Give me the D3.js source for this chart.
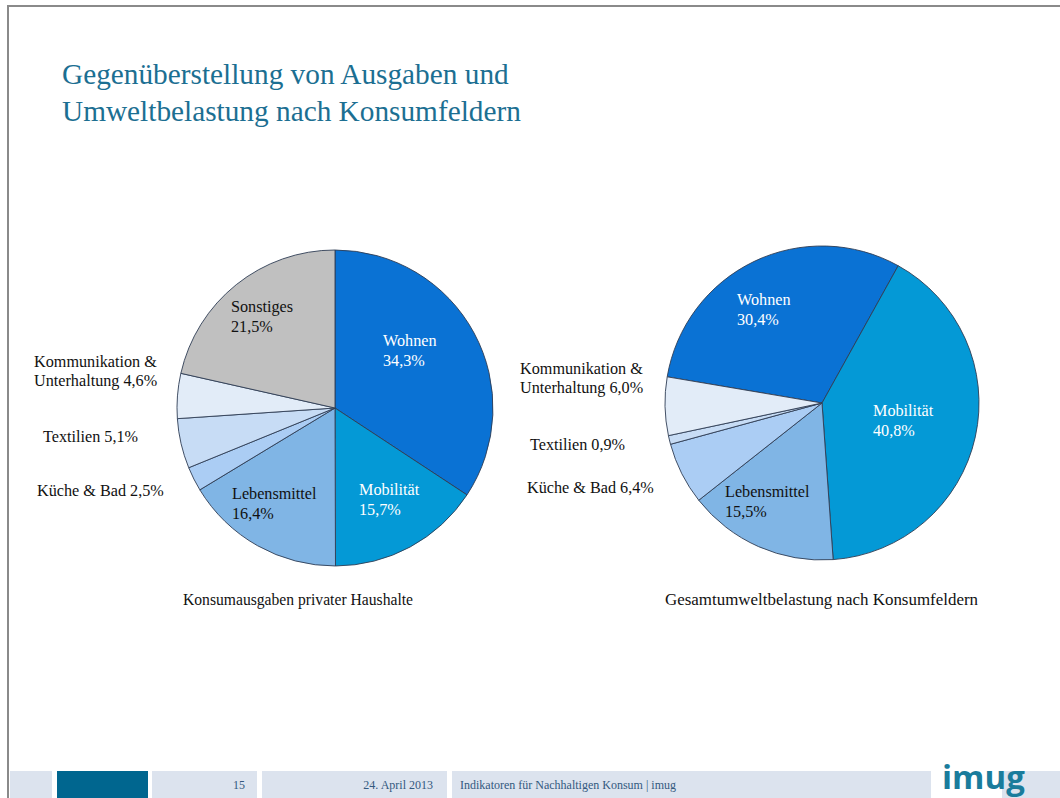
<!DOCTYPE html>
<html>
<head>
  <meta charset="utf-8">
  <title>Ausgaben und Umweltbelastung</title>
  <script src="https://d3js.org/d3.v7.min.js"></script>
  <style>
    body { margin: 0; background: #fff; }
    svg { display: block; }
    text { font-family: "Liberation Serif", "Times New Roman", Tinos, "DejaVu Serif", serif; }
  </style>
</head>
<body>
<svg></svg>
<script>
  // Chart data
  const categories = ["Wohnen", "Mobilität", "Lebensmittel", "Küche & Bad", "Textilien", "Kommunikation & Unterhaltung", "Sonstiges"];
  const ausgaben = [34.3, 15.7, 16.4, 2.5, 5.1, 4.6, 21.5];
  const umwelt = [30.4, 40.8, 15.5, 6.4, 0.9, 6.0, 0];
  const colors = ["#0a72d4", "#0499d6", "#80b5e5", "#abcdf4", "#c7dcf5", "#e2ecf8", "#c0c0c0"];
  const titleLines = ["Gegenüberstellung von Ausgaben und", "Umweltbelastung nach Konsumfeldern"];
  const captions = ["Konsumausgaben privater Haushalte", "Gesamtumweltbelastung nach Konsumfeldern"];

  const width = 1060, height = 798;
  const serif = "'Liberation Serif', 'Times New Roman', serif";
  const svg = d3.select("svg").attr("width", width).attr("height", height)
    .attr("font-family", serif);

  const fmt = v => d3.format(".1f")(v).replace(".", ",") + "%";

  // frame
  svg.append("line").attr("x1", 8).attr("x2", width).attr("y1", 6).attr("y2", 6)
    .attr("stroke", "#8a8a8a").attr("stroke-width", 2);
  svg.append("line").attr("x1", 8).attr("x2", 8).attr("y1", 5).attr("y2", height)
    .attr("stroke", "#8a8a8a").attr("stroke-width", 2);

  // title
  svg.append("text").attr("x", 62).attr("y", 84)
    .attr("fill", "#1c6f92").attr("font-size", 29.3)
    .selectAll("tspan").data(titleLines).join("tspan")
    .attr("x", 62).attr("dy", (d, i) => i ? 37 : 0).text(d => d);

  // label layout: [category index, x, y, white?]
  const pies = [
    {
      values: ausgaben, cx: 335, cy: 408, r: 158, startDeg: 0,
      caption: captions[0], capX: 183, capW: 230,
      labels: [
        [0, 383, 346, true], [1, 359, 495, true], [2, 232, 499, false],
        [6, 231, 312, false]
      ],
      outside: [
        [5, 34, 367, "Kommunikation &", "Unterhaltung"], [4, 43, 442, "Textilien"], [3, 37, 496, "Küche & Bad"]
      ]
    },
    {
      values: umwelt, cx: 822, cy: 403, r: 157, startDeg: -80.4,
      caption: captions[1], capX: 665, capW: 313,
      labels: [
        [0, 737, 305, true], [1, 873, 416, true], [2, 725, 497, false]
      ],
      outside: [
        [5, 520, 374, "Kommunikation &", "Unterhaltung"], [4, 530, 450, "Textilien"], [3, 527, 493, "Küche & Bad"]
      ]
    }
  ];

  pies.forEach(p => {
    const data = categories.map((c, i) => ({ name: c, value: p.values[i], i: i }));
    const a0 = p.startDeg * Math.PI / 180;
    const pie = d3.pie().value(d => d.value).sort(null)
      .startAngle(a0).endAngle(a0 + 2 * Math.PI);
    const arc = d3.arc().innerRadius(0).outerRadius(p.r);
    const g = svg.append("g").attr("transform", `translate(${p.cx},${p.cy})`);
    g.selectAll("path").data(pie(data).filter(d => d.data.value > 0)).join("path")
      .attr("d", arc)
      .attr("fill", d => colors[d.data.i])
      .attr("stroke", "#2f3d55").attr("stroke-width", 0.9);

    p.labels.forEach(([i, x, y, white]) => {
      const t = svg.append("text").attr("x", x).attr("y", y)
        .attr("font-size", 16.2).attr("fill", white ? "#fff" : "#111");
      t.append("tspan").attr("x", x).text(categories[i]);
      t.append("tspan").attr("x", x).attr("dy", 20).text(fmt(p.values[i]));
    });

    p.outside.forEach(([i, x, y, l1, l2]) => {
      const t = svg.append("text").attr("x", x).attr("y", y)
        .attr("font-size", 16.2).attr("fill", "#111");
      if (l2) {
        t.append("tspan").attr("x", x).text(l1);
        t.append("tspan").attr("x", x).attr("dy", 19).text(l2 + " " + fmt(p.values[i]));
      } else {
        t.append("tspan").attr("x", x).text(l1 + " " + fmt(p.values[i]));
      }
    });

    svg.append("text").attr("x", p.capX).attr("y", 605)
      .attr("font-size", 16).attr("fill", "#111")
      .attr("textLength", p.capW).attr("lengthAdjust", "spacingAndGlyphs")
      .text(p.caption);
  });

  // footer bar
  const cells = [[10, 52, "#dce3ee"], [57, 148, "#00668f"], [152, 257, "#dce3ee"], [262, 447, "#dce3ee"],
                 [452, 931, "#dce3ee"], [1002, 1060, "#dce3ee"]];
  svg.selectAll("rect.cell").data(cells).join("rect").attr("class", "cell")
    .attr("x", d => d[0]).attr("width", d => d[1] - d[0])
    .attr("y", 771).attr("height", height - 771).attr("fill", d => d[2]);

  const foot = svg.append("g").attr("font-size", 12).attr("fill", "#33597f");
  foot.append("text").attr("x", 245).attr("y", 789).attr("text-anchor", "end").text("15");
  foot.append("text").attr("x", 433).attr("y", 789).attr("text-anchor", "end").text("24. April 2013");
  foot.append("text").attr("x", 460).attr("y", 789).text("Indikatoren für Nachhaltigen Konsum | imug");

  svg.append("text").attr("x", 942).attr("y", 789)
    .style("font-family", "'Open Sans', 'DejaVu Sans', sans-serif").attr("font-weight", "bold")
    .attr("font-size", 33).attr("fill", "#1a7c9c").text("imug");
</script>
</body>
</html>
